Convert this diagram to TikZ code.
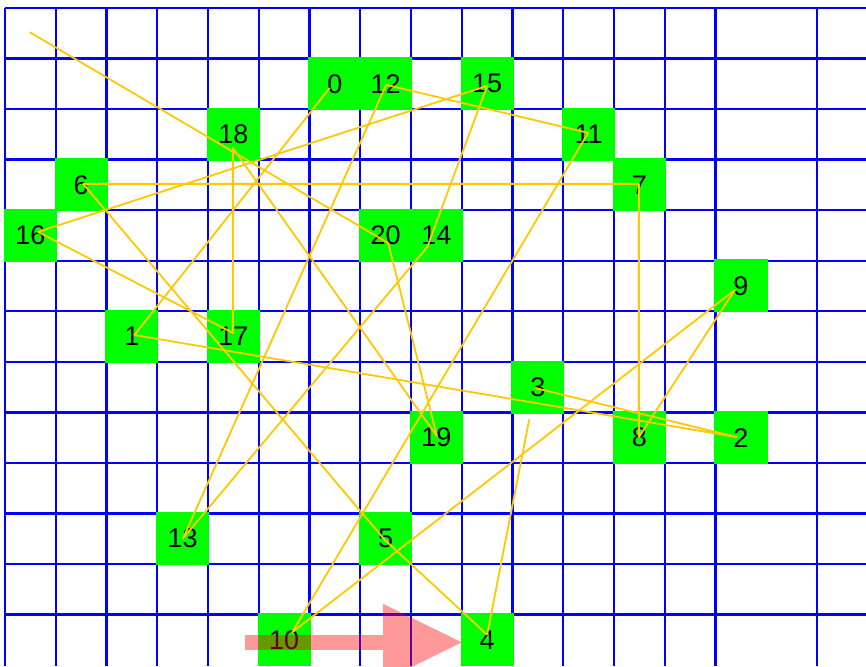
\documentclass[tikz,border=0pt]{standalone}
\usepackage{fontspec}
\setmainfont{Liberation Sans}
\usepackage{tikz}
\definecolor{gridblue}{RGB}{0,0,255}
\definecolor{cellgreen}{RGB}{0,255,0}
\definecolor{routeyellow}{RGB}{255,200,0}
\tikzset{
  gridline/.style={draw=gridblue, line width=1.2pt},
  cellbox/.style={fill=cellgreen, minimum width=26.6pt, minimum height=26.5pt, inner sep=0pt,
                  font=\fontsize{13.5}{16}\selectfont},
  route/.style={draw=routeyellow, line width=0.9pt, line join=round},
  hint/.style={fill=red, fill opacity=0.4}
}

\begin{document}
\begin{tikzpicture}[x=25.375pt, y=-25.27pt]
    \useasboundingbox (-0.0985,-0.1583) rectangle (16.965,13.019);
    %% grid (no line between columns 14 and 15)
    \foreach \k in {0,...,14,16}
      \draw[gridline] (\k,0) -- (\k,13.019);
    \foreach \j in {0,...,12}
      \draw[gridline] (0,\j) -- (16.965,\j);
    %% marked cells
    \node[cellbox] (cell0)  at ( 6.5, 1.5) {0};
    \node[cellbox] (cell12) at ( 7.5, 1.5) {12};
    \node[cellbox] (cell15) at ( 9.5, 1.5) {15};
    \node[cellbox] (cell11) at (11.5, 2.5) {11};
    \node[cellbox] (cell18) at ( 4.5, 2.5) {18};
    \node[cellbox] (cell6)  at ( 1.5, 3.5) {6};
    \node[cellbox] (cell7)  at (12.5, 3.5) {7};
    \node[cellbox] (cell16) at ( 0.5, 4.5) {16};
    \node[cellbox] (cell20) at ( 7.5, 4.5) {20};
    \node[cellbox] (cell14) at ( 8.5, 4.5) {14};
    \node[cellbox] (cell9)  at (14.5, 5.5) {9};
    \node[cellbox] (cell1)  at ( 2.5, 6.5) {1};
    \node[cellbox] (cell17) at ( 4.5, 6.5) {17};
    \node[cellbox] (cell3)  at (10.5, 7.5) {3};
    \node[cellbox] (cell19) at ( 8.5, 8.5) {19};
    \node[cellbox] (cell8)  at (12.5, 8.5) {8};
    \node[cellbox] (cell2)  at (14.5, 8.5) {2};
    \node[cellbox] (cell13) at ( 3.5,10.5) {13};
    \node[cellbox] (cell5)  at ( 7.5,10.5) {5};
    \node[cellbox] (cell10) at ( 5.5,12.5) {10};
    \node[cellbox] (cell4)  at ( 9.5,12.5) {4};
    %% route points
    \coordinate (r0)  at ( 6.40, 1.58);
    \coordinate (r1)  at ( 2.55, 6.47);
    \coordinate (r2)  at (14.42, 8.49);
    \coordinate (r3)  at (10.45, 7.52);
    \coordinate (r4)  at ( 9.50,12.40);
    \coordinate (r5)  at ( 7.49,10.53);
    \coordinate (r6)  at ( 1.54, 3.48);
    \coordinate (r7)  at (12.49, 3.48);
    \coordinate (r8)  at (12.49, 8.49);
    \coordinate (r9)  at (14.38, 5.58);
    \coordinate (r10) at ( 5.66,12.35);
    \coordinate (r11) at (11.49, 2.47);
    \coordinate (r12) at ( 7.51, 1.52);
    \coordinate (r13) at ( 3.51,10.49);
    \coordinate (r14) at ( 8.32, 4.73);
    \coordinate (r15) at ( 9.50, 1.54);
    \coordinate (r16) at ( 0.65, 4.43);
    \coordinate (r17) at ( 4.49, 6.43);
    \coordinate (r18) at ( 4.49, 2.77);
    \coordinate (r19) at ( 8.51, 8.47);
    \coordinate (r20) at ( 7.55, 4.65);
    \coordinate (home) at ( 0.49, 0.48);
    %% route
    \draw[route] (r0) -- (r1) -- (r2) -- (r3);
    \draw[route, shorten <=16pt] (r3) -- (r4);
    \draw[route] (r4) -- (r5) -- (r6) -- (r7) -- (r8) -- (r9) -- (r10) -- (r11)
                 -- (r12) -- (r13) -- (r14) -- (r15) -- (r16) -- (r17) -- (r18)
                 -- (r19) -- (r20) -- (home);
    %% heading
    \fill[hint] (4.73,12.41) -- (7.45,12.41) -- (7.45,11.79) -- (9.00,12.55)
                -- (7.45,13.32) -- (7.45,12.70) -- (4.73,12.70) -- cycle;
\end{tikzpicture}
\end{document}
